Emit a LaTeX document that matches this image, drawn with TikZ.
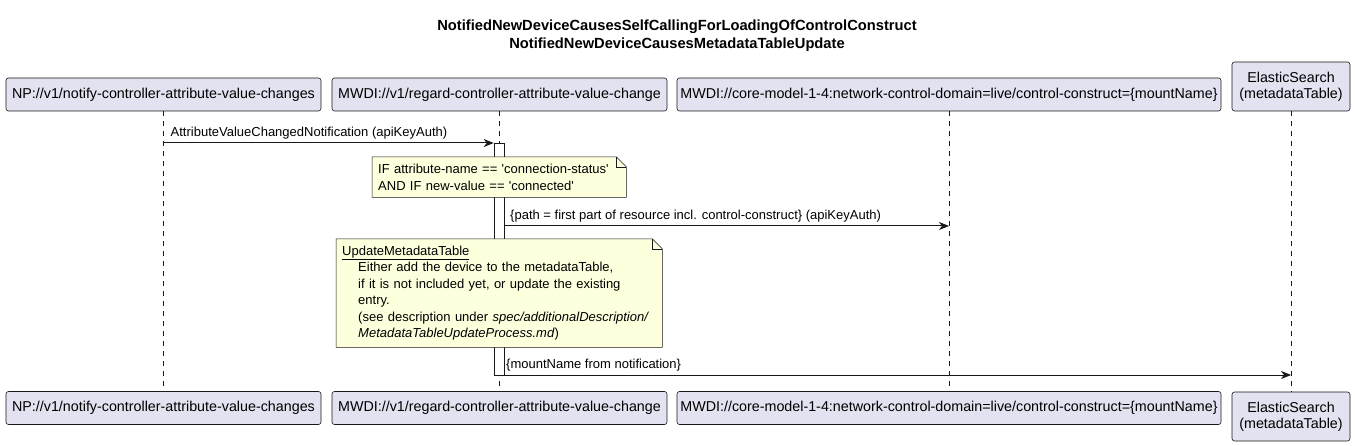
\documentclass[tikz,border=0pt]{standalone}
\usepackage{fontspec}
\setmainfont{Liberation Sans}
\usetikzlibrary{arrows.meta,shapes,positioning}
\definecolor{partyfill}{HTML}{E2E2F0}
\definecolor{notefill}{HTML}{FEFFDD}
\definecolor{linegray}{HTML}{181818}
\pgfdeclarelayer{lines}
\pgfdeclarelayer{notes}
\pgfsetlayers{lines,notes,main}

\begin{document}
\begin{tikzpicture}[x=1pt, y=-1pt, >={Stealth[length=10pt,width=8pt,inset=3pt]},
  party/.style={rectangle, rounded corners=2.5pt, draw=linegray, fill=partyfill, line width=0.6pt, minimum height=33, inner sep=0, font=\fontsize{14.3}{16}\selectfont},
  life/.style={draw=linegray, line width=0.5pt, dash pattern=on 5pt off 5pt},
  msg/.style={draw=linegray, line width=1pt, ->},
  lbl/.style={inner sep=0, font=\fontsize{13}{16}\selectfont},
  note/.style={inner xsep=6pt, inner ysep=0, align=left, font=\fontsize{13}{16.5}\selectfont},
  notebox/.style={draw=linegray, fill=notefill, line width=0.5pt}]
  \useasboundingbox (0,0) rectangle (1355,446);

  \node (title) [align=center, font=\bfseries\fontsize{14.7}{18}\selectfont] at (677,36) {NotifiedNewDeviceCausesSelfCallingForLoadingOfControlConstruct\\NotifiedNewDeviceCausesMetadataTableUpdate};

  \node (np) [party, minimum width=315] at (163.5,94.5) {NP://v1/notify-controller-attribute-value-changes};
  \node (regard) [party, minimum width=335] at (499.5,94.5) {MWDI://v1/regard-controller-attribute-value-change};
  \node (construct) [party, minimum width=544] at (949,94.5) {MWDI://core-model-1-4:network-control-domain=live/control-construct=\{mountName\}};
  \node (elastic) [party, minimum width=118, minimum height=49, align=center] at (1291,86.5) {ElasticSearch\\(metadataTable)};

  \node (npend) [party, minimum width=315] at (163.5,408) {NP://v1/notify-controller-attribute-value-changes};
  \node (regardend) [party, minimum width=335] at (499.5,408) {MWDI://v1/regard-controller-attribute-value-change};
  \node (constructend) [party, minimum width=544] at (949,408) {MWDI://core-model-1-4:network-control-domain=live/control-construct=\{mountName\}};
  \node (elasticend) [party, minimum width=118, minimum height=49, align=center] at (1291,416.5) {ElasticSearch\\(metadataTable)};

  \begin{pgfonlayer}{lines}
    \draw [life] (np) -- (npend);
    \draw [life] (regard) -- (regardend);
    \draw [life] (construct) -- (constructend);
    \draw [life] (elastic) -- (elasticend);
    \node (bar) [draw=linegray, fill=white, line width=0.6pt, minimum width=10, minimum height=232, inner sep=0, anchor=north] at (499,143) {};
  \end{pgfonlayer}

  \coordinate (m1) at (163.5,143);
  \coordinate (m2) at (504,226);
  \coordinate (m3) at (504,375);
  \draw [msg] (m1) -- (bar.north west);
  \node (m1label) [lbl, anchor=base west] at ([xshift=7pt, yshift=6pt]m1) {AttributeValueChangedNotification (apiKeyAuth)};
  \draw [msg] (m2) -- (construct |- m2);
  \node (m2label) [lbl, anchor=base west] at ([xshift=6pt, yshift=6pt]m2) {\{path = first part of resource incl. control-construct\} (apiKeyAuth)};
  \draw [msg] (m3) -- (elastic |- m3);
  \node (m3label) [lbl, anchor=base west] at ([xshift=2pt, yshift=6pt]m3) {\{mountName from notification\}};

  \node (cond) [note, text width=242, minimum height=40, anchor=north west] at (372,157) {IF attribute-name == \textquotesingle connection-status\textquotesingle\\AND IF new-value == \textquotesingle connected\textquotesingle};
  \node (update) [note, text width=314, minimum height=108, anchor=north west] at (336,239) {\underline{UpdateMetadataTable}\\
    \hspace*{16pt}Either add the device to the metadataTable,\\
    \hspace*{16pt}if it is not included yet, or update the existing\\
    \hspace*{16pt}entry.\\
    \hspace*{16pt}(see description under \textit{spec/additionalDescription/}\\
    \hspace*{16pt}\textit{MetadataTableUpdateProcess.md})};

  \begin{pgfonlayer}{notes}
    \draw [notebox] (cond.north west) -- ([xshift=-10pt]cond.north east) -- ([yshift=-10pt]cond.north east) -- (cond.south east) -- (cond.south west) -- cycle;
    \draw [notebox] (update.north west) -- ([xshift=-10pt]update.north east) -- ([yshift=-10pt]update.north east) -- (update.south east) -- (update.south west) -- cycle;
  \end{pgfonlayer}
  \draw [draw=linegray, line width=0.5pt] ([xshift=-10pt]cond.north east) |- ([yshift=-10pt]cond.north east);
  \draw [draw=linegray, line width=0.5pt] ([xshift=-10pt]update.north east) |- ([yshift=-10pt]update.north east);
\end{tikzpicture}
\end{document}
